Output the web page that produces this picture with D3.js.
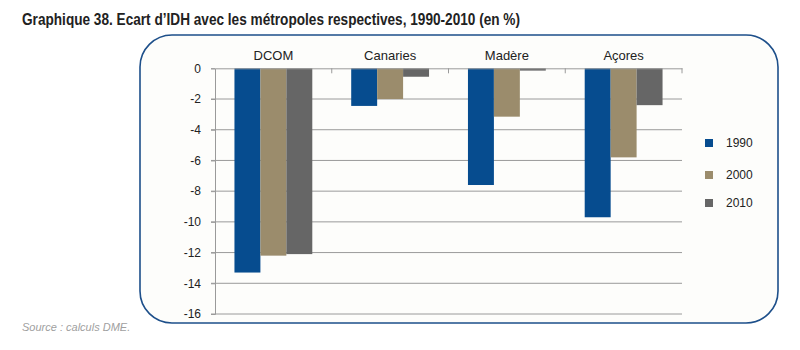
<!DOCTYPE html>
<html>
<head>
<meta charset="UTF-8">
<title></title>
<script src="https://cdn.jsdelivr.net/npm/d3@7"></script>
<style>
  body{margin:0;background:#fff;}
  text{font-family:"Liberation Sans",Arial,sans-serif;}
</style>
</head>
<body>
<div id="chart"></div>
<script>
    var categories=['DCOM','Canaries','Madère','Açores'];
    var years=['1990','2000','2010'];
    var v1990=[-13.3,-2.45,-7.6,-9.7];
    var v2000=[-12.2,-2.0,-3.15,-5.8];
    var v2010=[-12.1,-0.55,-0.15,-2.4];
    var yTicks=[0,-2,-4,-6,-8,-10,-12,-14,-16];
    var colors=['#064c8f','#9b8c6c','#666666'];

    var series=[v1990,v2000,v2010];
    var W=800,H=350;
    var svg=d3.select('#chart').append('svg')
            .attr('width',W)
            .attr('height',H);

    //titre
    svg.append('text')
            .attr('x',22).attr('y',25)
            .attr('font-weight','bold')
            .attr('font-size',17)
            .attr('fill','#222')
            .attr('textLength',498)
            .attr('lengthAdjust','spacingAndGlyphs')
            .text("Graphique 38. Ecart d’IDH avec les métropoles respectives, 1990-2010 (en %)");

    //cadre arrondi
    svg.append('rect')
            .attr('x',140).attr('y',35)
            .attr('width',638).attr('height',288)
            .attr('rx',32).attr('ry',32)
            .attr('fill','#fdfdfb')
            .attr('stroke','#1d4f8a')
            .attr('stroke-width',1.6);

    var pLeft=215,pRight=682,pTop=68.3,pBottom=314;
    var x0=d3.scaleBand().domain(categories).range([pLeft,pRight]).paddingInner(0).paddingOuter(0);
    // largeur du groupe de 3 barres (ecart 150%)
    var groupW=x0.bandwidth()*3/4.5;
    var x1=d3.scaleBand().domain(years).range([0,groupW]);
    var y=d3.scaleLinear().domain([-16,0]).range([pBottom,pTop]);

    var g=svg.append('g');
    //grille
    g.selectAll('line.grid').data(yTicks.filter(function(d){return d!==0;}))
            .enter().append('line')
            .attr('x1',pLeft-4).attr('x2',pRight)
            .attr('y1',function(d){return y(d);}).attr('y2',function(d){return y(d);})
            .attr('stroke','#9a9a9a').attr('stroke-width',1);
    //axe Y
    var yaxis=d3.axisLeft(y).tickValues(yTicks).tickSize(4).tickFormat(function(d){return d;});
    var gy=g.append('g').attr('transform','translate('+pLeft+',0)').call(yaxis);
    gy.select('.domain').attr('stroke','#9a9a9a');
    gy.selectAll('.tick line').attr('stroke','#9a9a9a');
    gy.selectAll('.tick text').attr('font-size',12).attr('fill','#222')
            .attr('font-family','"Liberation Sans",Arial,sans-serif').attr('x',-14);

    //barres
    series.forEach(function(s,k){
        g.selectAll('rect.s'+k).data(categories)
                .enter().append('rect')
                .attr('x',function(d){return x0(d)+(x0.bandwidth()-groupW)/2+x1(years[k]);})
                .attr('y',y(0))
                .attr('width',x1.bandwidth())
                .attr('height',function(d,i){return y(s[i])-y(0);})
                .attr('fill',colors[k]);
    });

    //axe X a zero
    var xaxis=d3.axisBottom(x0).tickSize(0).tickFormat('');
    var gx=g.append('g').attr('transform','translate(0,'+y(0)+')').call(xaxis);
    gx.select('.domain').attr('stroke','#9a9a9a');
    g.selectAll('line.xt').data(categories)
            .enter().append('line')
            .attr('x1',function(d){return x0(d)+x0.bandwidth();})
            .attr('x2',function(d){return x0(d)+x0.bandwidth();})
            .attr('y1',y(0)).attr('y2',y(0)+5)
            .attr('stroke','#9a9a9a');

    //etiquettes categories
    g.selectAll('text.cat').data(categories)
            .enter().append('text')
            .attr('x',function(d){return x0(d)+x0.bandwidth()/2;})
            .attr('y',60)
            .attr('text-anchor','middle')
            .attr('font-size',13)
            .attr('fill','#222')
            .text(function(d){return d;});

    //legende
    var lg=svg.append('g');
    var ly=[139,171,199];
    years.forEach(function(yr,k){
        lg.append('rect').attr('x',705).attr('y',ly[k]).attr('width',8).attr('height',8).attr('fill',colors[k]);
        lg.append('text').attr('x',726).attr('y',ly[k]+8).attr('font-size',12).attr('fill','#222').text(yr);
    });

    //source
    svg.append('text')
            .attr('x',22).attr('y',331)
            .attr('font-size',11)
            .attr('font-style','italic')
            .attr('fill','#a0a0a0')
            .text('Source : calculs DME.');
</script>
</body>
</html>
